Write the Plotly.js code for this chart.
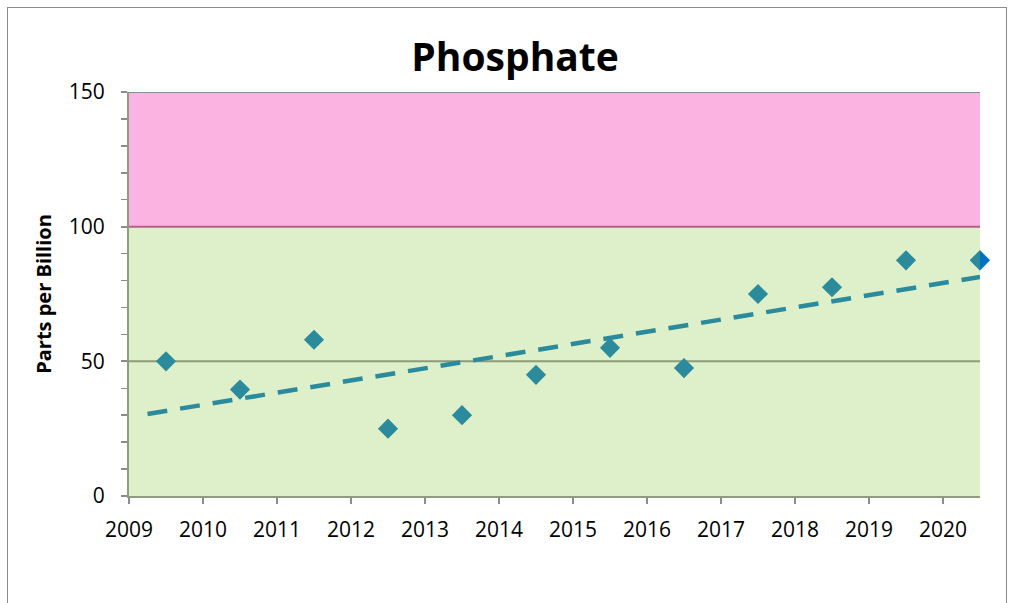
<!DOCTYPE html>
<html><head><meta charset="utf-8">
<script src="https://cdn.plot.ly/plotly-3.0.1.min.js"></script>
<style>
html,body{margin:0;padding:0;background:#fff;}
#wrap{position:relative;width:1012px;height:603px;overflow:hidden;}
#frame{position:absolute;left:7px;top:7px;width:1000px;height:620px;border:1px solid #8c8c8c;box-sizing:border-box;}
#chart{position:absolute;left:0;top:0;width:1012px;height:603px;}
</style></head>
<body>
<div id="wrap"><div id="frame"></div><div id="chart"></div></div>
<script>
// Data
const years = [2009.5, 2010.5, 2011.5, 2012.5, 2013.5, 2014.5, 2015.5, 2016.5, 2017.5, 2018.5, 2019.5, 2020.5];
const phosphate = [50, 39.5, 58, 25, 30, 45, 55, 47.5, 75, 77.5, 87.5, 87.5];
const latestYear = [2020.5];
const latestValue = [87.5];
const tickYears = [2009, 2010, 2011, 2012, 2013, 2014, 2015, 2016, 2017, 2018, 2019, 2020];
const tickLabels = ["2009","2010","2011","2012","2013","2014","2015","2016","2017","2018","2019","2020"];
const trendRange = [2009.25, 2020.5];
const goodBand = [0, 100];
const highBand = [100, 150];

// linear least-squares trend computed from the data
const n = years.length;
const mx = years.reduce((a,b)=>a+b,0)/n;
const my = phosphate.reduce((a,b)=>a+b,0)/n;
let sxy=0, sxx=0;
for(let i=0;i<n;i++){sxy+=(years[i]-mx)*(phosphate[i]-my);sxx+=(years[i]-mx)**2;}
const slope = sxy/sxx, icpt = my - slope*mx;
const trendY = trendRange.map(x=>icpt+slope*x);

const FONT = 'Open Sans, Liberation Sans, sans-serif';
const teal = '#2b8a9c';
const traces = [
  {x: trendRange, y: trendY, mode:'lines', line:{color:teal, width:4.5, dash:'20px,13px'}, hoverinfo:'skip', cliponaxis:true},
  {x: latestYear, y: latestValue, mode:'markers', marker:{symbol:'diamond', size:15.5, color:'#0070c0'}, cliponaxis:false},
  {x: years, y: phosphate, mode:'markers', marker:{symbol:'diamond', size:15.5, color:teal}, cliponaxis:true}
];

const layout = {
  width:1012, height:603,
  margin:{l:129, r:32, t:92, b:107},
  paper_bgcolor:'rgba(0,0,0,0)', plot_bgcolor:'rgba(0,0,0,0)',
  showlegend:false,
  title:{text:'<b>Phosphate</b>', x:0.509, xanchor:'center', y:0.905, yanchor:'middle',
         font:{family:FONT, size:39, color:'#000'}},
  font:{family:FONT, color:'#000'},
  xaxis:{range:[2009, 2020.5], tickmode:'array', tickvals:tickYears, ticktext:tickLabels,
         showgrid:false, zeroline:false, showline:true, linecolor:'#8f9c80', linewidth:2,
         ticks:'outside', ticklen:6, tickwidth:2, tickcolor:'#8c8c8c', ticklabelstandoff:8,
         tickfont:{size:21, family:FONT}},
  yaxis:{range:[0,150], tickmode:'array', tickvals:[0,50,100,150], ticktext:['0','50','100','150'],
         showgrid:false, zeroline:false, showline:true, linecolor:'#8f9c80', linewidth:2,
         ticks:'outside', ticklen:6, tickwidth:2, tickcolor:'#8c8c8c', ticklabelstandoff:12,
         minor:{dtick:10, ticks:'outside', ticklen:6, tickwidth:1.5, tickcolor:'#8c8c8c', showgrid:false},
         tickfont:{size:21, family:FONT},
         title:{text:'<b>Parts per Billion</b>', standoff:12, font:{size:20, family:FONT}}},
  shapes:[
    {type:'rect', xref:'paper', yref:'y', x0:0, x1:1, y0:goodBand[0], y1:goodBand[1], fillcolor:'#def0c9', line:{width:0}, layer:'below'},
    {type:'rect', xref:'paper', yref:'y', x0:0, x1:1, y0:highBand[0], y1:highBand[1], fillcolor:'#fbb4e1', line:{width:0}, layer:'below'},
    {type:'line', xref:'paper', yref:'y', x0:0, x1:1, y0:50, y1:50, line:{color:'#8c9c78', width:2}, layer:'below'},
    {type:'line', xref:'paper', yref:'y', x0:0, x1:1, y0:100, y1:100, line:{color:'#b0608f', width:2}, layer:'below'},
    {type:'line', xref:'paper', yref:'y', x0:0, x1:1, y0:150, y1:150, line:{color:'#8c8c8c', width:2}, layer:'below'}
  ]
};
Plotly.newPlot('chart', traces, layout, {displayModeBar:false, staticPlot:true});
</script>
</body></html>
